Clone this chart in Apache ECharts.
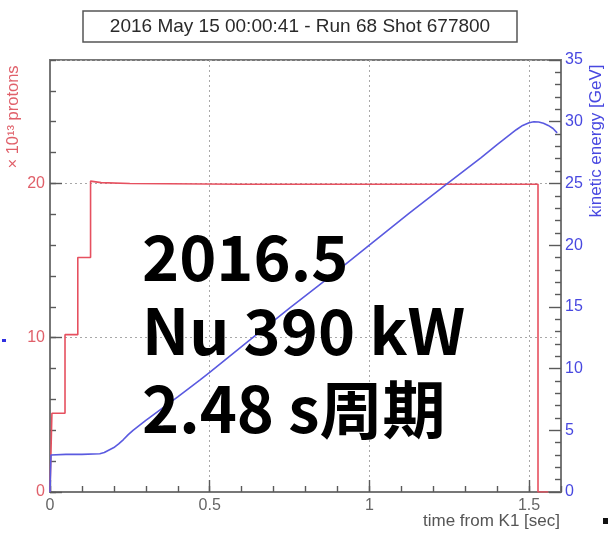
<!DOCTYPE html>
<html>
<head>
<meta charset="utf-8">
<script src="https://cdn.jsdelivr.net/npm/echarts@6/dist/echarts.min.js"></script>
<style>
html,body{margin:0;padding:0;background:#fff;}
#chart{width:608px;height:534px;}
</style>
</head>
<body>
<div id="chart"></div>
<script>
// ---- data ----
const titleText = '2016 May 15 00:00:41 - Run 68 Shot 677800';
const xTickLabels = ['0', '0.5', '1', '1.5'];
const leftTickLabels = ['0', '10', '20'];
const rightTickLabels = ['0', '5', '10', '15', '20', '25', '30', '35'];

// protons (x 10^13) vs time from K1 [sec]
const protonTimes  = [0, 0.006, 0.006, 0.047, 0.047, 0.087, 0.087, 0.127, 0.127, 0.16, 0.25, 0.6, 1.0, 1.3, 1.528, 1.528, 1.56];
const protonValues = [0, 0,     5.1,   5.1,   10.2,  10.2,  15.2,  15.2,  20.15, 20.05, 20.0, 19.95, 19.95, 19.95, 19.95, 0, 0];

// kinetic energy [GeV] vs time from K1 [sec]
const energyTimes  = [0, 0.003, 0.05, 0.10, 0.156, 0.17, 0.185, 0.20, 0.215, 0.23, 0.245, 0.26, 0.28, 0.30, 0.40, 0.469, 0.50, 0.625, 0.75, 0.875, 1.0, 1.125, 1.25, 1.35, 1.40, 1.42, 1.44, 1.46, 1.48, 1.50, 1.515, 1.53, 1.545, 1.56, 1.575, 1.588];
const energyValues = [0, 3.0,   3.05, 3.05, 3.1,   3.2,  3.4,   3.6,  3.9,   4.25, 4.65,  5.0,  5.4,  5.8,  7.7,  9.07,  9.7,  12.3,  14.9, 17.4,  20.0, 22.6,  25.1, 27.1, 28.15, 28.55, 28.95, 29.35, 29.7, 29.92, 30.0, 29.98, 29.88, 29.7, 29.45, 29.1];

const overlayLines = ['2016.5', 'Nu 390 kW', '2.48 s周期'];

// ---- chart ----
const protonData = protonTimes.map((t, i) => [t, protonValues[i]]);
const energyData = energyTimes.map((t, i) => [t, energyValues[i]]);

const chart = echarts.init(document.getElementById('chart'), null, {renderer: 'canvas'});
const FONT = 'Liberation Sans';
const frameColor = '#777';
const tickColor = '#5a5a5a';
const redColor = '#e6505f';
const redLabel = '#e0606a';
const blueColor = '#5a5ae0';
const blueLabel = '#4848e0';

const option = {
  animation: false,
  backgroundColor: '#fff',
  grid: {left: 50, right: 47, top: 60, bottom: 42, show: true, borderColor: frameColor, borderWidth: 2, backgroundColor: 'transparent'},
  xAxis: [
    {
      type: 'value', min: 0, max: 1.6, interval: 0.5, position: 'bottom',
      axisLine: {show: true, lineStyle: {color: frameColor, width: 2}},
      axisTick: {show: true, inside: true, length: 12, lineStyle: {color: tickColor, width: 1.4}},
      axisLabel: {show: true, color: '#666', fontSize: 16, fontFamily: FONT, margin: 6, showMaxLabel: false,
        formatter: v => { const i = Math.round(v / 0.5); return (Math.abs(v - i * 0.5) < 1e-6 && i < xTickLabels.length) ? xTickLabels[i] : ''; }},
      splitLine: {show: true, lineStyle: {color: '#a8a8a8', type: [2, 3], width: 1}}
    },
    {
      type: 'value', min: 0, max: 1.6, interval: 0.1, position: 'bottom',
      axisLine: {show: false},
      axisTick: {show: true, inside: true, length: 6, lineStyle: {color: tickColor, width: 1.4}},
      axisLabel: {show: false},
      splitLine: {show: false}
    }
  ],
  yAxis: [
    {
      type: 'value', min: 0, max: 28, interval: 10, position: 'left',
      axisLine: {show: true, lineStyle: {color: frameColor, width: 2}},
      axisTick: {show: true, inside: true, length: 12, lineStyle: {color: tickColor, width: 1.4}},
      axisLabel: {show: true, color: redLabel, fontSize: 16, fontFamily: FONT, margin: 5, showMaxLabel: false,
        formatter: v => { const i = Math.round(v / 10); return (Math.abs(v - i * 10) < 1e-6 && i < leftTickLabels.length) ? leftTickLabels[i] : ''; }},
      splitLine: {show: true, lineStyle: {color: '#a8a8a8', type: [2, 3], width: 1}}
    },
    {
      type: 'value', min: 0, max: 28, interval: 2, position: 'left',
      axisLine: {show: false},
      axisTick: {show: true, inside: true, length: 6, lineStyle: {color: tickColor, width: 1.4}},
      axisLabel: {show: false},
      splitLine: {show: false}
    },
    {
      type: 'value', min: 0, max: 35, interval: 5, position: 'right',
      axisLine: {show: true, lineStyle: {color: frameColor, width: 2}},
      axisTick: {show: true, inside: true, length: 12, lineStyle: {color: tickColor, width: 1.4}},
      minorTick: {show: true, splitNumber: 5, length: 6, lineStyle: {color: tickColor, width: 1.4}},
      axisLabel: {show: true, color: blueLabel, fontSize: 16, fontFamily: FONT, margin: 4,
        formatter: v => { const i = Math.round(v / 5); return rightTickLabels[i] || ''; }},
      splitLine: {show: false}
    }
  ],
  series: [
    {
      type: 'line', name: 'protons', xAxisIndex: 0, yAxisIndex: 0, data: protonData,
      showSymbol: false, symbol: 'none', lineStyle: {color: redColor, width: 1.6}, z: 3
    },
    {
      type: 'line', name: 'energy', xAxisIndex: 0, yAxisIndex: 2, data: energyData, smooth: false,
      showSymbol: false, symbol: 'none', lineStyle: {color: blueColor, width: 1.6}, z: 4
    }
  ],
  graphic: [
    {type: 'rect', shape: {x: 83, y: 11, width: 434, height: 31}, style: {fill: '#fff', stroke: '#555', lineWidth: 1.5}, z: 10},
    {type: 'text', x: 300, y: 27, z: 11, style: {text: titleText, fill: '#2a2a2a', font: '19px ' + FONT, textAlign: 'center', textVerticalAlign: 'middle'}},
    {type: 'text', x: 13, y: 117, rotation: Math.PI / 2, z: 11, style: {text: '× 10¹³ protons', fill: redLabel, font: '16.5px ' + FONT, textAlign: 'center', textVerticalAlign: 'middle'}},
    {type: 'text', x: 596, y: 141, rotation: Math.PI / 2, z: 11, style: {text: 'kinetic energy [GeV]', fill: blueLabel, font: '17px ' + FONT, textAlign: 'center', textVerticalAlign: 'middle'}},
    {type: 'text', x: 560, y: 521, z: 11, style: {text: 'time from K1 [sec]', fill: '#555', font: '17px ' + FONT, textAlign: 'right', textVerticalAlign: 'middle'}},
    {type: 'text', x: 142, y: 257, z: 12, style: {text: overlayLines[0], fill: '#000', font: 'bold 63px "Noto Sans CJK JP"', textAlign: 'left', textVerticalAlign: 'middle'}},
    {type: 'text', x: 142, y: 331, z: 12, style: {text: overlayLines[1], fill: '#000', font: 'bold 63px "Noto Sans CJK JP"', textAlign: 'left', textVerticalAlign: 'middle'}},
    {type: 'text', x: 142, y: 409, z: 12, style: {text: overlayLines[2], fill: '#000', font: 'bold 63px "Noto Sans CJK JP"', textAlign: 'left', textVerticalAlign: 'middle'}},
    {type: 'rect', shape: {x: 2, y: 339, width: 4, height: 3}, style: {fill: '#3030e0'}, z: 11},
    {type: 'rect', shape: {x: 603, y: 518, width: 5, height: 6}, style: {fill: '#111'}, z: 11}
  ]
};
chart.setOption(option);
</script>
</body>
</html>
